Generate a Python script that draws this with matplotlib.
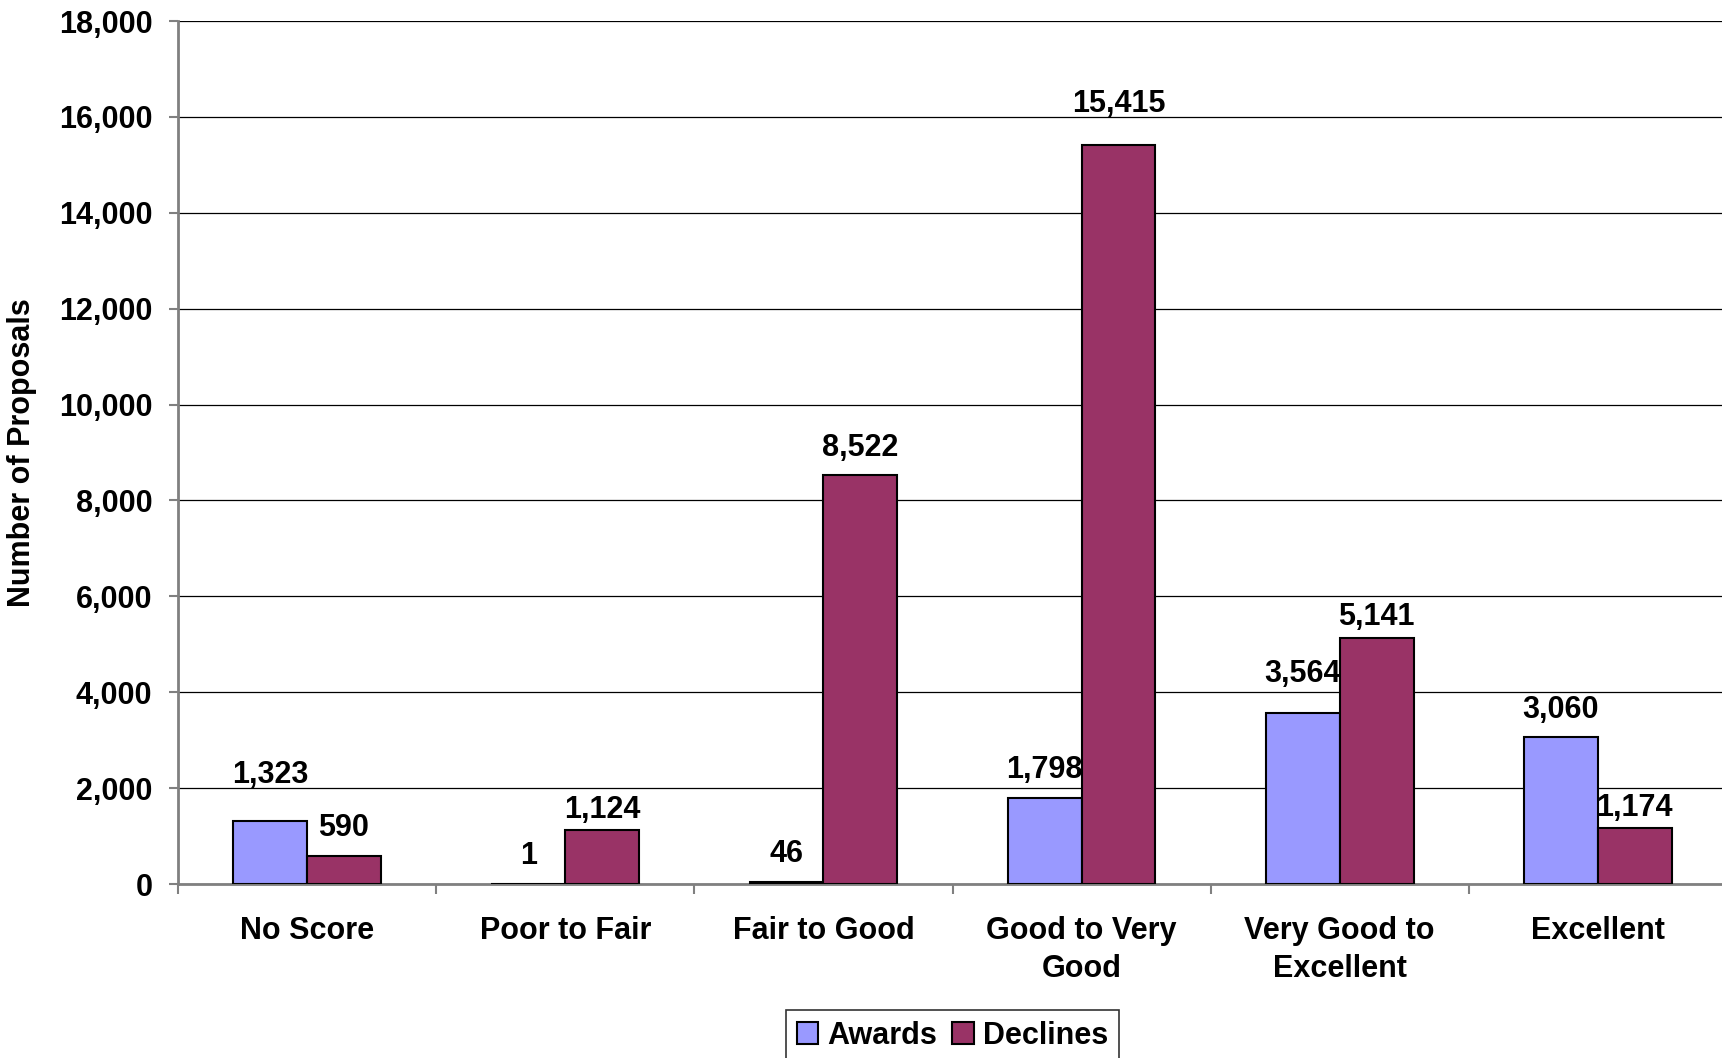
import numpy as np
import matplotlib
matplotlib.use("Agg")
import matplotlib.pyplot as plt
from matplotlib.ticker import FuncFormatter, FixedLocator

plt.rcParams['font.family'] = ['Liberation Sans', 'DejaVu Sans']
plt.rcParams['font.weight'] = 'bold'

# data
categories = ['No Score', 'Poor to Fair', 'Fair to Good', 'Good to Very\nGood',
              'Very Good to\nExcellent', 'Excellent']
awards = [1323, 1, 46, 1798, 3564, 3060]
declines = [590, 1124, 8522, 15415, 5141, 1174]
series_names = ['Awards', 'Declines']

# small vertical nudges (points) for the hand-placed value labels
awards_nudge = [13, 0, 0, 0, 8, 0]
declines_nudge = [0, -5.5, 0, 9.5, -5, -6]

AWARD_COLOR = '#9999FF'
DECLINE_COLOR = '#993366'
AXIS_GREY = '#808080'
FS = 22

fig = plt.figure(figsize=(17.22, 10.58), dpi=100)
ax = fig.add_axes([178 / 1722, 174 / 1058, 1549 / 1722, (884 - 21) / 1058])

x = np.arange(len(categories))
w = 0.286
b1 = ax.bar(x - w / 2, awards, w, color=AWARD_COLOR, edgecolor='black',
            linewidth=1.5, label=series_names[0], zorder=3)
b2 = ax.bar(x + w / 2, declines, w, color=DECLINE_COLOR, edgecolor='black',
            linewidth=1.5, label=series_names[1], zorder=3)

# value labels above each bar
for bars, nudges in ((b1, awards_nudge), (b2, declines_nudge)):
    for rect, dy in zip(bars, nudges):
        v = rect.get_height()
        ax.annotate(f'{int(v):,}', (rect.get_x() + rect.get_width() / 2, v),
                    xytext=(0, 20 + dy), textcoords='offset points',
                    ha='center', va='center', fontsize=FS, fontweight='bold')

ax.set_xlim(-0.5, len(categories) - 0.5)
ax.set_ylim(0, 18000)
ax.set_yticks(np.arange(0, 18001, 2000))
ax.yaxis.set_major_formatter(FuncFormatter(lambda v, p: f'{int(v):,}'))
ax.yaxis.grid(True, color='black', linewidth=0.9)
ax.set_axisbelow(True)

ax.set_xticks(x)
ax.set_xticklabels(categories, fontsize=FS, fontweight='bold', linespacing=1.35)
ax.xaxis.set_minor_locator(FixedLocator(np.arange(-0.5, len(categories), 1.0)))
ax.tick_params(axis='x', which='major', length=0, pad=23)
ax.tick_params(axis='x', which='minor', length=7, width=1.5, color=AXIS_GREY,
               direction='out')
ax.tick_params(axis='y', length=6.5, width=1.5, color=AXIS_GREY, pad=12,
               labelsize=FS)
for lab in ax.get_yticklabels():
    lab.set_fontweight('bold')

for side in ('top', 'right'):
    ax.spines[side].set_visible(False)
for side in ('left', 'bottom'):
    ax.spines[side].set_color(AXIS_GREY)
    ax.spines[side].set_linewidth(2)

ax.set_ylabel('Number of Proposals', fontsize=FS, fontweight='bold')
ax.yaxis.set_label_coords(-0.091, 0.5)

leg = fig.legend(handles=[b1, b2], loc='upper center',
                 bbox_to_anchor=(0.553, 48 / 1058), borderaxespad=0,
                 ncol=2, fontsize=FS, frameon=True, fancybox=False,
                 handlelength=0.7, handleheight=0.7, handletextpad=0.3,
                 columnspacing=0.5, borderpad=0.35)
leg.get_frame().set_edgecolor('black')
leg.get_frame().set_linewidth(1.2)
for t in leg.get_texts():
    t.set_fontweight('bold')

fig.savefig('out.png', dpi=100)
